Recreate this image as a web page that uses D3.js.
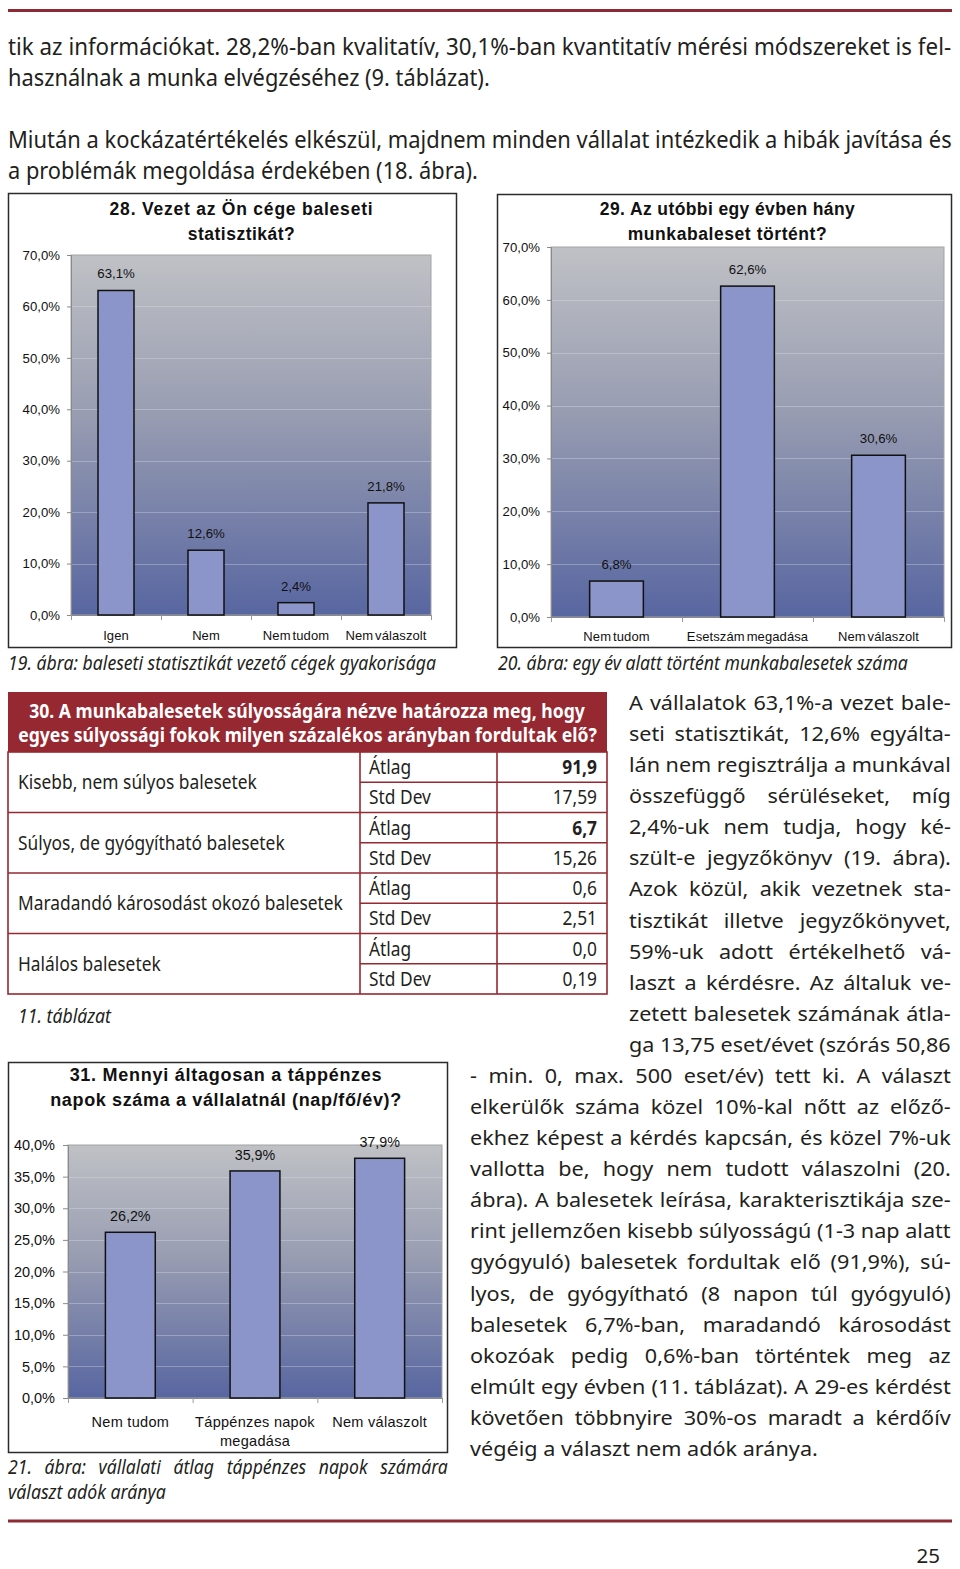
<!DOCTYPE html>
<html><head><meta charset="utf-8">
<script src="https://cdn.jsdelivr.net/npm/d3@7"></script>
<style>body{margin:0;background:#fff}svg{display:block}</style>
</head><body>
<svg id="page" width="960" height="1569"></svg>
<script>
// ---------- DATA ----------
const c28Categories = ["Igen", "Nem", "Nem tudom", "Nem válaszolt"];
const c28Values = [63.1, 12.6, 2.4, 21.8];
const c28Ticks = [0, 10, 20, 30, 40, 50, 60, 70];
const c28Title = ["28. Vezet az Ön cége baleseti", "statisztikát?"];

const c29Categories = ["Nem tudom", "Esetszám megadása", "Nem válaszolt"];
const c29Values = [6.8, 62.6, 30.6];
const c29Ticks = [0, 10, 20, 30, 40, 50, 60, 70];
const c29Title = ["29. Az utóbbi egy évben hány", "munkabaleset történt?"];

const c31Categories = [["Nem tudom"], ["Táppénzes napok", "megadása"], ["Nem válaszolt"]];
const c31Values = [26.2, 35.9, 37.9];
const c31Ticks = [0, 5, 10, 15, 20, 25, 30, 35, 40];
const c31Title = ["31. Mennyi áltagosan a táppénzes", "napok száma a vállalatnál (nap/fő/év)?"];

const tableTitle = ["30. A munkabalesetek súlyosságára nézve határozza meg, hogy",
                    "egyes súlyossági fokok milyen százalékos arányban fordultak elő?"];
const tableCategories = ["Kisebb, nem súlyos balesetek", "Súlyos, de gyógyítható balesetek",
                         "Maradandó károsodást okozó balesetek", "Halálos balesetek"];
const tableStatLabels = ["Átlag", "Std Dev"];
const tableMeans = [91.9, 6.7, 0.6, 0.0];
const tableStdDevs = [17.59, 15.26, 2.51, 0.19];
const tableMeanBold = [true, true, false, false];

const topParagraph = [
  "tik az információkat. 28,2%-ban kvalitatív, 30,1%-ban kvantitatív mérési módszereket is fel-",
  "használnak a munka elvégzéséhez (9. táblázat).",
  "",
  "Miután a kockázatértékelés elkészül, majdnem minden vállalat intézkedik a hibák javítása és",
  "a problémák megoldása érdekében (18. ábra)."
];
const narrowColumn = [
  "A vállalatok 63,1%-a vezet bale-",
  "seti statisztikát, 12,6% egyálta-",
  "lán nem regisztrálja a munkával",
  "összefüggő sérüléseket, míg",
  "2,4%-uk nem tudja, hogy ké-",
  "szült-e jegyzőkönyv (19. ábra).",
  "Azok közül, akik vezetnek sta-",
  "tisztikát illetve jegyzőkönyvet,",
  "59%-uk adott értékelhető vá-",
  "laszt a kérdésre. Az általuk ve-",
  "zetett balesetek számának átla-",
  "ga 13,75 eset/évet (szórás 50,86"
];
const wideColumn = [
  "- min. 0, max. 500 eset/év) tett ki. A választ",
  "elkerülők száma közel 10%-kal nőtt az előző-",
  "ekhez képest a kérdés kapcsán, és közel 7%-uk",
  "vallotta be, hogy nem tudott válaszolni (20.",
  "ábra). A balesetek leírása, karakterisztikája sze-",
  "rint jellemzően kisebb súlyosságú (1-3 nap alatt",
  "gyógyuló) balesetek fordultak elő (91,9%), sú-",
  "lyos, de gyógyítható (8 napon túl gyógyuló)",
  "balesetek 6,7%-ban, maradandó károsodást",
  "okozóak pedig 0,6%-ban történtek meg az",
  "elmúlt egy évben (11. táblázat). A 29-es kérdést",
  "követően többnyire 30%-os maradt a kérdőív",
  "végéig a választ nem adók aránya."
];
const captions = {
  c19: "19. ábra: baleseti statisztikát vezető cégek gyakorisága",
  c20: "20. ábra: egy év alatt történt munkabalesetek száma",
  t11: "11. táblázat",
  c21: ["21. ábra: vállalati átlag táppénzes napok számára", "választ adók aránya"]
};
const pageNumber = "25";

// ---------- HELPERS ----------
const BODY = "'Noto Sans', 'Open Sans', sans-serif";
const ARIAL = "'Liberation Sans', Arial, sans-serif";
const INK = "#231f20";
const RED = "#962832";
const svg = d3.select("#page");
svg.append("rect").attr("width", 960).attr("height", 1569).attr("fill", "#fff");

const defs = svg.append("defs");
const grad = defs.append("linearGradient").attr("id", "plotGrad")
  .attr("x1", 0).attr("y1", 0).attr("x2", 0).attr("y2", 1);
grad.append("stop").attr("offset", "0%").attr("stop-color", "#bfc1c5");
grad.append("stop").attr("offset", "45%").attr("stop-color", "#979cb1");
grad.append("stop").attr("offset", "100%").attr("stop-color", "#5866a1");

// Text helper: horizontal condensing is done with a scale transform so the
// element's geometry matches what is drawn.
function txt(parent, str, x, y, o) {
  const t = parent.append("text").attr("x", 0).attr("y", 0).text(str)
    .attr("font-family", o.family || BODY).attr("font-size", o.size)
    .attr("font-weight", o.weight || "normal").attr("font-style", o.style || "normal")
    .attr("fill", o.fill || INK).attr("text-anchor", o.anchor || "start");
  if (o.ls !== undefined) t.attr("letter-spacing", o.ls);
  if (o.ws !== undefined) t.style("word-spacing", o.ws + "px");
  const node = t.node();
  let s = 1;
  if (o.fit) {
    const w = node.getComputedTextLength();
    if (o.adjust === "spacing") {
      const n = Math.max(1, str.length - 1);
      t.attr("letter-spacing", (o.fit - w) / n);
    } else s = o.fit / w;
  } else if (o.justify) {
    const c = o.cond || 1;
    const w = node.getComputedTextLength();
    const n = (str.match(/ /g) || []).length;
    if (n > 0 && w * c <= o.justify) {
      t.style("word-spacing", ((o.justify / c - w) / n) + "px");
    }
    s = o.justify / node.getComputedTextLength();
  } else if (o.scale) {
    s = o.scale;
  }
  t.attr("transform", `translate(${x},${y})` + (s !== 1 ? ` scale(${s},1)` : ""));
  return t;
}
function measure(str, o) {
  const t = txt(svg, str, 0, -100, o);
  const w = t.node().getComputedTextLength();
  t.remove();
  return w;
}
const pct = (d, dec) => d3.format("." + dec + "f")(d).replace(".", ",") + "%";
const num = (d, dec) => d3.format("." + dec + "f")(d).replace(".", ",");

// ---------- PAGE RULES ----------
svg.append("rect").attr("x", 8).attr("y", 9).attr("width", 944).attr("height", 3).attr("fill", "#8c2a35");
svg.append("rect").attr("x", 8).attr("y", 1519.5).attr("width", 944).attr("height", 3).attr("fill", "#8c2a35");

// ---------- TOP PARAGRAPH ----------
const topWidths = [944, 482, 0, 944, 470];
topParagraph.forEach((line, i) => {
  if (!line) return;
  txt(svg, line, 8, 55 + i * 31, { size: 23, fit: topWidths[i] });
});

// ---------- BAR CHART ----------
function barChart(cfg) {
  const g = svg.append("g");
  const [bx0, by0, bx1, by1] = cfg.box;
  const [px0, py0, px1, py1] = cfg.plot;
  g.append("rect").attr("x", bx0).attr("y", by0).attr("width", bx1 - bx0).attr("height", by1 - by0)
    .attr("fill", "#fff").attr("stroke", "#2b2b2b").attr("stroke-width", 1.5);

  cfg.title.forEach((line, i) => {
    txt(g, line, cfg.titleX, cfg.titleY[i], { family: ARIAL, size: cfg.titleSize, weight: "bold",
      anchor: "middle", fill: "#111", fit: cfg.titleW[i], adjust: "spacing" });
  });

  const n = cfg.categories.length;
  const x = d3.scaleBand().domain(d3.range(n)).range([px0, px1])
    .paddingInner(cfg.pad).paddingOuter(cfg.pad / 2);
  const slot = d3.scaleLinear().domain([0, n]).range([px0, px1]);
  const y = d3.scaleLinear().domain([0, cfg.max]).range([py1, py0]);

  g.append("rect").attr("x", px0).attr("y", py0).attr("width", px1 - px0).attr("height", py1 - py0)
    .attr("fill", "url(#plotGrad)").attr("stroke", "#a3a3a6").attr("stroke-width", 1);

  g.append("g").selectAll("line").data(cfg.ticks.filter(d => d > 0 && d < cfg.max)).join("line")
    .attr("x1", px0).attr("x2", px1).attr("y1", d => Math.round(y(d)) + 0.5).attr("y2", d => Math.round(y(d)) + 0.5)
    .attr("stroke", "#dfe1ea").attr("stroke-opacity", 0.35);

  const ya = g.append("g").attr("transform", `translate(${px0},0)`)
    .call(d3.axisLeft(y).tickValues(cfg.ticks).tickSize(cfg.tickLen).tickPadding(cfg.tickPad)
      .tickFormat(d => pct(d, 1)));
  ya.select(".domain").attr("stroke", "#8a8a8a");
  ya.selectAll(".tick line").attr("stroke", "#8a8a8a");
  ya.selectAll(".tick text").attr("font-family", ARIAL).attr("font-size", cfg.tickFont).attr("fill", "#111");

  const xa = g.append("g").attr("transform", `translate(0,${py1})`)
    .call(d3.axisBottom(slot).tickValues(d3.range(n + 1)).tickSize(5).tickFormat(""));
  xa.select(".domain").attr("stroke", "#8a8a8a");
  xa.selectAll(".tick line").attr("stroke", "#9a9a9a");

  g.append("g").selectAll("rect").data(cfg.values).join("rect")
    .attr("x", (d, i) => x(i)).attr("width", x.bandwidth())
    .attr("y", d => y(d)).attr("height", d => y(0) - y(d))
    .attr("fill", "#8b95ca").attr("stroke", "#111").attr("stroke-width", 1.5);

  g.append("g").selectAll("text").data(cfg.values).join("text")
    .attr("x", (d, i) => x(i) + x.bandwidth() / 2).attr("y", d => y(d) - cfg.valueOffset)
    .attr("text-anchor", "middle").attr("font-family", ARIAL).attr("font-size", cfg.valueFont)
    .attr("fill", "#111").text(d => pct(d, 1));

  cfg.categories.forEach((c, i) => {
    const lines = Array.isArray(c) ? c : [c];
    lines.forEach((l, j) => {
      txt(g, l, x(i) + x.bandwidth() / 2, cfg.catY + j * cfg.catLine,
        { family: ARIAL, size: cfg.catFont, anchor: "middle", fill: "#111", ls: cfg.catLs, ws: cfg.catWs });
    });
  });
}

barChart({
  box: [8.5, 193.5, 456.5, 647.5], plot: [71, 255, 431, 615], max: 70, ticks: c28Ticks,
  categories: c28Categories, values: c28Values, pad: 0.6,
  title: c28Title, titleX: 241.5, titleY: [215, 240], titleW: [263, 107], titleSize: 17.5,
  tickLen: 4, tickPad: 7, tickFont: 13.2, valueFont: 13.2, valueOffset: 12,
  catY: 640, catLine: 0, catFont: 13, catLs: 0.1, catWs: -1.8
});
barChart({
  box: [497.5, 194.5, 951.5, 647.5], plot: [551, 247, 944, 617], max: 70, ticks: c29Ticks,
  categories: c29Categories, values: c29Values, pad: 0.59,
  title: c29Title, titleX: 727.5, titleY: [215, 240], titleW: [255, 199], titleSize: 17.5,
  tickLen: 4, tickPad: 7, tickFont: 13.2, valueFont: 13.2, valueOffset: 12,
  catY: 641, catLine: 0, catFont: 13, catLs: 0.1, catWs: -1.8
});
barChart({
  box: [8.5, 1062.5, 447.5, 1452.5], plot: [68, 1145, 442, 1398], max: 40, ticks: c31Ticks,
  categories: c31Categories, values: c31Values, pad: 0.6,
  title: c31Title, titleX: 226, titleY: [1081, 1106], titleW: [312, 351], titleSize: 18,
  tickLen: 5, tickPad: 8, tickFont: 14.5, valueFont: 14.3, valueOffset: 11,
  catY: 1427, catLine: 19, catFont: 14.5, catLs: 0.3, catWs: 0
});

// ---------- CAPTIONS ----------
txt(svg, captions.c19, 8, 670, { size: 20, style: "italic", fit: 428 });
txt(svg, captions.c20, 498, 670, { size: 20, style: "italic", fit: 410 });
txt(svg, captions.t11, 18, 1023, { size: 20, style: "italic", fit: 93 });
txt(svg, captions.c21[0], 8, 1474, { size: 20, style: "italic", justify: 440, cond: 0.88 });
txt(svg, captions.c21[1], 8, 1499, { size: 20, style: "italic", fit: 158 });

// ---------- TABLE ----------
(function () {
  const g = svg.append("g");
  const X0 = 8, X1 = 360, X2 = 497, X3 = 607, HY0 = 692, HY1 = 752, RH = 30.25;
  g.append("rect").attr("x", X0).attr("y", HY0).attr("width", X3 - X0).attr("height", HY1 - HY0).attr("fill", RED);
  txt(g, tableTitle[0], 307, 718, { size: 19.5, weight: "bold", fill: "#fff", anchor: "middle", fit: 556 });
  txt(g, tableTitle[1], 307.5, 742, { size: 19.5, weight: "bold", fill: "#fff", anchor: "middle", fit: 579 });

  const yBot = HY1 + RH * 8;
  const lines = g.append("g").attr("stroke", RED).attr("stroke-width", 1.6).attr("fill", "none");
  lines.append("rect").attr("x", X0).attr("y", HY1).attr("width", X3 - X0).attr("height", yBot - HY1);
  lines.append("line").attr("x1", X1).attr("x2", X1).attr("y1", HY1).attr("y2", yBot);
  lines.append("line").attr("x1", X2).attr("x2", X2).attr("y1", HY1).attr("y2", yBot);
  d3.range(1, 8).forEach(r => {
    const yy = HY1 + r * RH;
    lines.append("line").attr("x1", r % 2 === 0 ? X0 : X1).attr("x2", X3).attr("y1", yy).attr("y2", yy);
  });

  const k = 325 / measure(tableCategories[2], { size: 20 });
  tableCategories.forEach((c, i) => {
    const yc = HY1 + (2 * i + 1) * RH;
    txt(g, c, 18, yc + 7, { size: 20, scale: k });
    tableStatLabels.forEach((s, j) => {
      txt(g, s, 369, HY1 + (2 * i + j) * RH + 22, { size: 20, scale: k });
    });
    txt(g, num(tableMeans[i], 1), 597, HY1 + 2 * i * RH + 22,
      { size: 20, anchor: "end", weight: tableMeanBold[i] ? "bold" : "normal", scale: k });
    txt(g, num(tableStdDevs[i], 2), 597, HY1 + (2 * i + 1) * RH + 22, { size: 20, anchor: "end", scale: k });
  });
})();

// ---------- RIGHT COLUMN TEXT ----------
const BODY_SIZE = 20.5;
const lastLine = wideColumn[wideColumn.length - 1];
const cond = 348 / measure(lastLine, { size: BODY_SIZE });
narrowColumn.forEach((l, i) => txt(svg, l, 629, 710 + i * 31.08, { size: BODY_SIZE, justify: 322, cond }));
wideColumn.forEach((l, i) => {
  const last = i === wideColumn.length - 1;
  txt(svg, l, 470, 710 + (12 + i) * 31.08, last ? { size: BODY_SIZE, fit: 348 } : { size: BODY_SIZE, justify: 481, cond });
});

txt(svg, pageNumber, 940, 1563, { size: 20.5, anchor: "end" });
</script>
</body></html>
